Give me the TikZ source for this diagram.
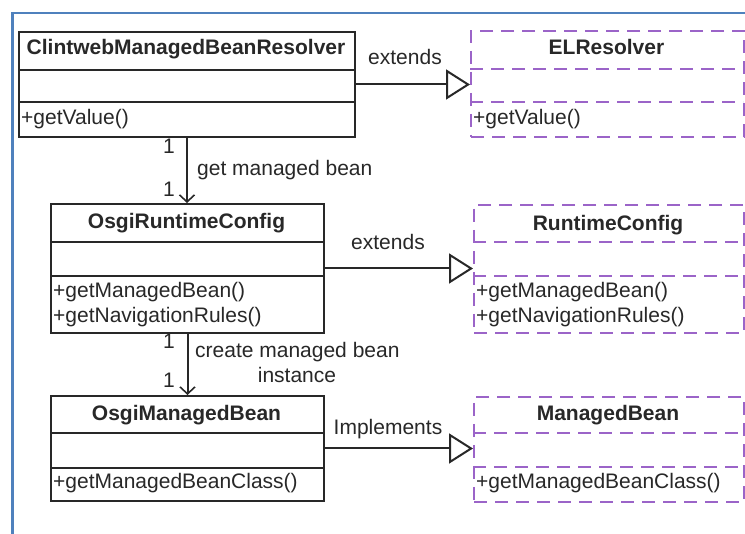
\documentclass[tikz,border=0pt]{standalone}
\usepackage{fontspec}
\setmainfont{Liberation Sans}
\usetikzlibrary{arrows.meta}
\definecolor{frameblue}{RGB}{79,129,189}
\definecolor{ifacepurple}{RGB}{155,100,200}
\definecolor{ink}{RGB}{40,40,40}

\begin{document}
\begin{tikzpicture}[x=1pt,y=-1pt,
  font=\fontsize{21}{25}\selectfont,
  classbox/.style={draw=ink, line width=2pt, inner sep=0pt, anchor=north west},
  ifacebox/.style={draw=ifacepurple, line width=2pt, dash pattern=on 13pt off 8pt, inner sep=0pt, anchor=north west},
  classdiv/.style={draw=ink, line width=2pt},
  ifacediv/.style={draw=ifacepurple, line width=2pt, dash pattern=on 13pt off 8pt},
  title/.style={font=\fontsize{21}{25}\selectfont\bfseries, text=ink, anchor=base, inner sep=0pt},
  member/.style={text=ink, anchor=base west, inner sep=0pt},
  lbl/.style={text=ink, anchor=base, inner sep=0pt},
  conn/.style={draw=ink, line width=2pt},
  gen/.style={conn, -{Triangle[open, length=24pt, width=30pt, line width=2pt]}},
  assoc/.style={conn, -{Straight Barb[length=7pt, width=15pt, line width=1.6pt]}},
]
\useasboundingbox (0,0) rectangle (745,534);
\fill[white] (0,0) rectangle (745,534);

% frame
\draw[frameblue, line width=2.5pt] (12.5,534) -- (12.5,13) -- (745,13);

% ---- concrete classes ----
\node[classbox, minimum width=336pt, minimum height=105pt] (clint) at (18,31) {};
\draw[classdiv] (18,70) -- (354,70);
\draw[classdiv] (18,102) -- (354,102);
\node[title] (clintT) at (186,55) {ClintwebManagedBeanResolver};
\node[member] (clintM) at (21,125) {+getValue()};

\node[classbox, minimum width=273pt, minimum height=129pt] (orc) at (50,203) {};
\draw[classdiv] (50,242) -- (323,242);
\draw[classdiv] (50,276) -- (323,276);
\node[title] (orcT) at (186.5,229) {OsgiRuntimeConfig};
\node[member] (orcM1) at (53,298) {+getManagedBean()};
\node[member] (orcM2) at (53,323) {+getNavigationRules()};

\node[classbox, minimum width=273pt, minimum height=105pt] (omb) at (50,395) {};
\draw[classdiv] (50,433) -- (323,433);
\draw[classdiv] (50,468) -- (323,468);
\node[title] (ombT) at (186.5,421) {OsgiManagedBean};
\node[member] (ombM) at (53,489) {+getManagedBeanClass()};

% ---- supertypes ----
\node[ifacebox, minimum width=273pt, minimum height=106pt] (el) at (470,30) {};
\draw[ifacediv] (470,69) -- (743,69);
\draw[ifacediv] (470,102) -- (743,102);
\node[title] (elT) at (606.5,55) {ELResolver};
\node[member] (elM) at (473,125) {+getValue()};

\node[ifacebox, minimum width=270pt, minimum height=128pt] (rc) at (473,204) {};
\draw[ifacediv] (473,242) -- (743,242);
\draw[ifacediv] (473,276) -- (743,276);
\node[title] (rcT) at (608,231) {RuntimeConfig};
\node[member] (rcM1) at (476,298) {+getManagedBean()};
\node[member] (rcM2) at (476,323) {+getNavigationRules()};

\node[ifacebox, minimum width=270pt, minimum height=105pt] (mb) at (473,396) {};
\draw[ifacediv] (473,433) -- (743,433);
\draw[ifacediv] (473,467) -- (743,467);
\node[title] (mbT) at (608,421) {ManagedBean};
\node[member] (mbM) at (476,489) {+getManagedBeanClass()};

% ---- generalisations ----
\draw[gen] (clint.east) -- (clint.east -| el.west);
\node[lbl] (ext1) at (405,65) {extends};
\draw[gen] (orc.east) -- (orc.east -| rc.west);
\node[lbl] (ext2) at (388,250) {extends};
\draw[gen] (omb.east) -- (omb.east -| mb.west);
\node[lbl] (impl) at (388,435) {Implements};

% ---- associations ----
\draw[assoc] (clint.south) -- (clint.south |- orc.north);
\node[lbl] (m1a) at (169,154) {1};
\node[lbl] (m1b) at (169,197) {1};
\node[text=ink, anchor=base west, inner sep=0pt] (get) at (197,176) {get managed bean};

\draw[assoc] (orc.south) -- (orc.south |- omb.north);
\node[lbl] (m2a) at (169,349) {1};
\node[lbl] (m2b) at (169,388) {1};
\node[text=ink, anchor=base west, inner sep=0pt] (create) at (195,358) {create managed bean};
\node[lbl] (inst) at (297,383) {instance};
\end{tikzpicture}
\end{document}
